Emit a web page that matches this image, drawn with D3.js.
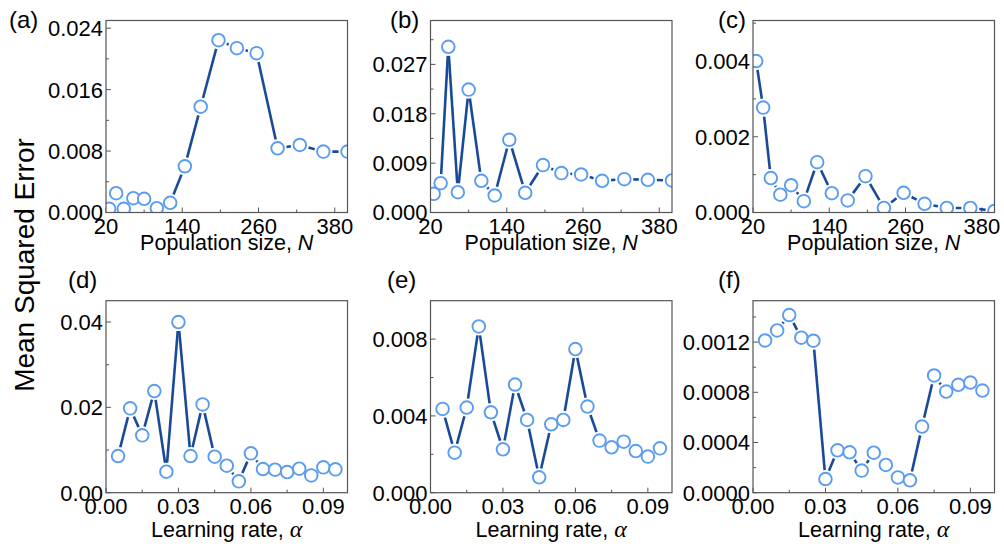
<!DOCTYPE html>
<html><head><meta charset="utf-8">
<script src="https://cdn.jsdelivr.net/npm/d3@7"></script>
<style>
html,body{margin:0;padding:0;background:#fff;}
svg text{font-family:"Liberation Sans",Arial,sans-serif;fill:#000;}
</style></head>
<body><svg id="c" width="1004" height="550"></svg>
<script>
// ---- data ----
const popN = [25, 36, 48, 63, 80, 100, 121, 144, 169, 197, 226, 257, 290, 325, 362, 400];
const mseA = [0.00048, 0.00251, 0.00048, 0.00186, 0.00178, 0.00056, 0.00126, 0.00602, 0.01378, 0.02244, 0.0214, 0.02075, 0.00836, 0.00879, 0.00793, 0.00793];
const mseB = [0.0034, 0.00535, 0.0302, 0.0037, 0.0224, 0.00578, 0.0031, 0.01326, 0.00359, 0.00864, 0.00718, 0.00693, 0.00578, 0.00608, 0.00596, 0.00584];
const mseC = [0.0040, 0.00277, 0.00091, 0.00047, 0.00072, 0.0003, 0.00133, 0.00051, 0.00032, 0.00096, 0.00012, 0.00052, 0.00023, 0.00012, 0.00012, 0.00004];
const alphaLR = [0.005, 0.01, 0.015, 0.02, 0.025, 0.03, 0.035, 0.04, 0.045, 0.05, 0.055, 0.06, 0.065, 0.07, 0.075, 0.08, 0.085, 0.09, 0.095];
const mseD = [0.0086, 0.01977, 0.01344, 0.02383, 0.00492, 0.0400, 0.0086, 0.0207, 0.00844, 0.00633, 0.00266, 0.00922, 0.00555, 0.00539, 0.00484, 0.00563, 0.00406, 0.00594, 0.00547];
const mseE = [0.004365, 0.002087, 0.004435, 0.00866, 0.00419, 0.00226, 0.005635, 0.00379, 0.0008, 0.003565, 0.00379, 0.00748, 0.004487, 0.002713, 0.002365, 0.00266, 0.00217, 0.00188, 0.00231];
const mseF = [0.001213, 0.001293, 0.001416, 0.001235, 0.001211, 0.000109, 0.000338, 0.000322, 0.000176, 0.000319, 0.000221, 0.000122, 0.0000985, 0.000527, 0.000934, 0.000806, 0.00086, 0.000878, 0.000814];

const popTicks = [20, 140, 260, 380];
const popMinor = [80, 200, 320];
const lrTicks = [0, 0.03, 0.06, 0.09];
const lrMinor = [0.015, 0.045, 0.075];
const yTicksA = [0, 0.008, 0.016, 0.024], yMinorA = [0.004, 0.012, 0.020];
const yTicksB = [0, 0.009, 0.018, 0.027], yMinorB = [0.0045, 0.0135, 0.0225, 0.0315];
const yTicksC = [0, 0.002, 0.004], yMinorC = [0.001, 0.003, 0.005];
const yTicksD = [0, 0.02, 0.04], yMinorD = [0.01, 0.03];
const yTicksE = [0, 0.004, 0.008], yMinorE = [0.002, 0.006];
const yTicksF = [0, 0.0004, 0.0008, 0.0012], yMinorF = [0.0002, 0.0006, 0.0010, 0.0014];

// ---- layout ----
const svg = d3.select("#c");
const W = 241.5, H = 192;
const lefts = [106, 430.5, 753];
const tops = [20.5, 300.7];
const lineColor = "#194a98", dotColor = "#5a9cf0", frameColor = "#555";

const panels = [
  {lab:"(a)", row:0, col:0, x:popN, y:mseA, xd:[20,400], yd:[0,0.025], xt:popTicks, xm:popMinor, yt:yTicksA, ym:yMinorA, xf:d3.format("d"), yf:d3.format(".3f"), labX:9},
  {lab:"(b)", row:0, col:1, x:popN, y:mseB, xd:[20,400], yd:[0,0.035], xt:popTicks, xm:popMinor, yt:yTicksB, ym:yMinorB, xf:d3.format("d"), yf:d3.format(".3f"), labX:390},
  {lab:"(c)", row:0, col:2, x:popN, y:mseC, xd:[20,400], yd:[0,0.00507], xt:popTicks, xm:popMinor, yt:yTicksC, ym:yMinorC, xf:d3.format("d"), yf:d3.format(".3f"), labX:718},
  {lab:"(d)", row:1, col:0, x:alphaLR, y:mseD, xd:[0,0.1], yd:[0,0.045], xt:lrTicks, xm:lrMinor, yt:yTicksD, ym:yMinorD, xf:d3.format(".2f"), yf:d3.format(".2f"), labX:68},
  {lab:"(e)", row:1, col:1, x:alphaLR, y:mseE, xd:[0,0.1], yd:[0,0.01], xt:lrTicks, xm:lrMinor, yt:yTicksE, ym:yMinorE, xf:d3.format(".2f"), yf:d3.format(".3f"), labX:387},
  {lab:"(f)", row:1, col:2, x:alphaLR, y:mseF, xd:[0,0.1], yd:[0,0.00153], xt:lrTicks, xm:lrMinor, yt:yTicksF, ym:yMinorF, xf:d3.format(".2f"), yf:d3.format(".4f"), labX:718}
];

panels.forEach((p, i) => {
  const L = lefts[p.col], T = tops[p.row];
  const xs = d3.scaleLinear().domain(p.xd).range([L, L + W]);
  const ys = d3.scaleLinear().domain(p.yd).range([T + H, T]);
  const g = svg.append("g");
  const clipId = "clip" + i;
  g.append("clipPath").attr("id", clipId).append("rect")
    .attr("x", L).attr("y", T).attr("width", W).attr("height", H);

  // ticks (inside)
  const tk = g.append("g").attr("stroke", frameColor).attr("stroke-width", 1);
  p.xt.forEach(v => tk.append("line").attr("x1", xs(v)).attr("x2", xs(v)).attr("y1", T + H).attr("y2", T + H - 5));
  p.xm.forEach(v => tk.append("line").attr("x1", xs(v)).attr("x2", xs(v)).attr("y1", T + H).attr("y2", T + H - 3));
  p.yt.forEach(v => tk.append("line").attr("x1", L).attr("x2", L + 5).attr("y1", ys(v)).attr("y2", ys(v)));
  p.ym.forEach(v => { if (ys(v) > T + 0.5) tk.append("line").attr("x1", L).attr("x2", L + 3).attr("y1", ys(v)).attr("y2", ys(v)); });

  // data
  const pts = p.x.map((xv, k) => [xs(xv), ys(p.y[k])]);
  const dg = g.append("g").attr("clip-path", `url(#${clipId})`);
  const gap = 9;
  for (let k = 0; k < pts.length - 1; k++) {
    const [x1, y1] = pts[k], [x2, y2] = pts[k + 1];
    const dx = x2 - x1, dy = y2 - y1, len = Math.hypot(dx, dy);
    if (len <= 2 * gap + 0.5) continue;
    const ux = dx / len, uy = dy / len;
    dg.append("line")
      .attr("x1", x1 + ux * gap).attr("y1", y1 + uy * gap)
      .attr("x2", x2 - ux * gap).attr("y2", y2 - uy * gap)
      .attr("stroke", lineColor).attr("stroke-width", 2.6).attr("stroke-linecap", "butt");
  }
  dg.selectAll("circle").data(pts).join("circle")
    .attr("cx", d => d[0]).attr("cy", d => d[1]).attr("r", 6.3)
    .attr("fill", "#fff").attr("stroke", dotColor).attr("stroke-width", 1.9);

  // frame
  g.append("rect").attr("x", L).attr("y", T).attr("width", W).attr("height", H)
    .attr("fill", "none").attr("stroke", frameColor).attr("stroke-width", 1.2);

  // tick labels
  p.xt.forEach(v => g.append("text").attr("x", xs(v)).attr("y", T + H + 21)
    .attr("text-anchor", "middle").attr("font-size", 22).text(p.xf(v)));
  p.yt.forEach(v => g.append("text").attr("x", L - 3).attr("y", ys(v)).attr("dy", "0.36em")
    .attr("text-anchor", "end").attr("font-size", 22).text(p.yf(v)));

  // axis title
  const tt = g.append("text").attr("x", L + W / 2).attr("y", T + H + (p.row === 0 ? 37 : 44))
    .attr("text-anchor", "middle").attr("font-size", 21.5);
  if (p.row === 0) {
    tt.append("tspan").text("Population size, ");
    tt.append("tspan").attr("font-style", "italic").text("N");
  } else {
    tt.append("tspan").text("Learning rate, ");
    tt.append("tspan").attr("font-style", "italic").style("font-family", "'Liberation Serif','Times New Roman',serif").attr("font-size", 24).text("α");
  }
  // panel label
  svg.append("text").attr("x", p.labX).attr("y", (p.row === 0 ? 28 : 288)).attr("font-size", 24).text(p.lab);
});

svg.append("text").attr("transform", "translate(34,265) rotate(-90)")
  .attr("text-anchor", "middle").attr("font-size", 28).text("Mean Squared Error");
</script></body></html>
